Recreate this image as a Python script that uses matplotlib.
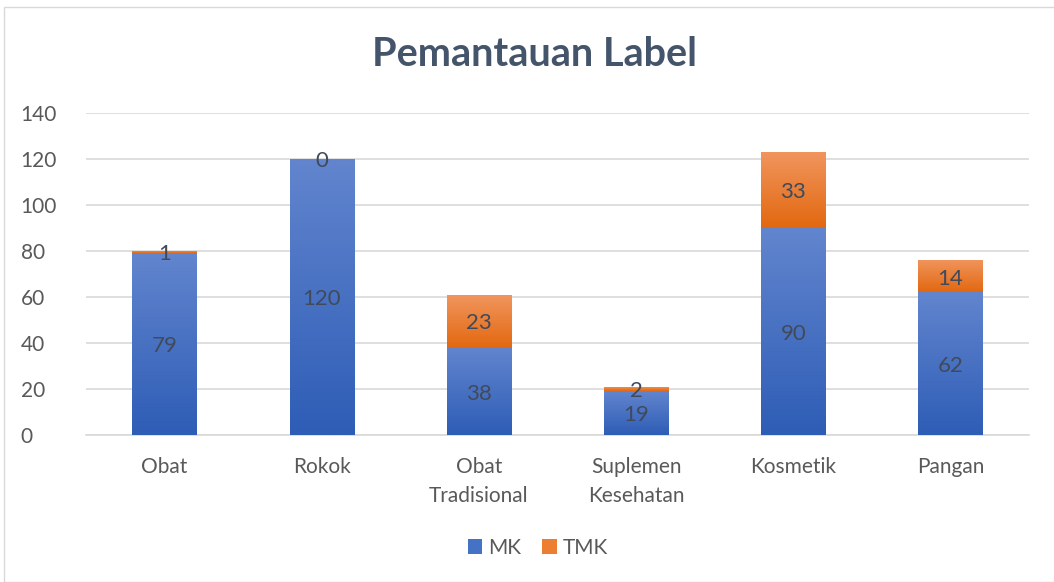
import matplotlib
matplotlib.use("Agg")
import matplotlib.pyplot as plt
import numpy as np
from matplotlib.colors import LinearSegmentedColormap
from matplotlib.patches import Rectangle, Patch

categories = ["Obat", "Rokok", "Obat\nTradisional", "Suplemen\nKesehatan", "Kosmetik", "Pangan"]
mk = [79, 120, 38, 19, 90, 62]
tmk = [1, 0, 23, 2, 33, 14]
yticks = [0, 20, 40, 60, 80, 100, 120, 140]

plt.rcParams['font.family'] = ['Lato', 'DejaVu Sans']

W, H = 1054, 582
fig = plt.figure(figsize=(W/100, H/100), dpi=100)
ax = fig.add_axes([86/W, 1-435/H, (1029-86)/W, (435-113)/H])

blue_cmap = LinearSegmentedColormap.from_list("b", ["#2E5DB6", "#6285CE"])
orange_cmap = LinearSegmentedColormap.from_list("o", ["#E2680F", "#F1955E"])

x = np.arange(len(categories))
width = 0.41
b1 = ax.bar(x, mk, width, color="#4472C4", label="MK", zorder=2)
b2 = ax.bar(x, tmk, width, bottom=mk, color="#ED7D31", label="TMK", zorder=2)

grad = np.linspace(0, 1, 256).reshape(-1, 1)
for bars, cmap in ((b1, blue_cmap), (b2, orange_cmap)):
    for p in bars:
        x0, y0 = p.get_x(), p.get_y()
        w, h = p.get_width(), p.get_height()
        if h <= 0:
            continue
        im = ax.imshow(grad, cmap=cmap, origin="lower", aspect="auto",
                       extent=(x0, x0 + w, y0, y0 + h), zorder=3)
        im.set_clip_path(p)

ax.set_xlim(-0.5, len(categories) - 0.5)
ax.set_ylim(0, 140)
ax.set_yticks(yticks)
ax.set_xticks(x)
ax.set_xticklabels(categories, linespacing=1.55)
ax.grid(axis="y", color="#D9D9D9", linewidth=1.2, zorder=0)
ax.set_axisbelow(True)
for s in ["top", "right", "left"]:
    ax.spines[s].set_visible(False)
ax.spines["bottom"].set_color("#D9D9D9")
ax.spines["bottom"].set_linewidth(1.2)
ax.tick_params(axis="both", length=0, labelsize=15, labelcolor="#595959")
ax.tick_params(axis="x", pad=16)
ax.tick_params(axis="y", pad=47)
for lbl in ax.get_yticklabels():
    lbl.set_horizontalalignment("left")

for i in range(len(categories)):
    ax.text(x[i], mk[i] / 2 - 1, str(mk[i]), ha="center", va="center",
            fontsize=16, color="#404A5A", zorder=5)
    ax.text(x[i], mk[i] + tmk[i] / 2 - 1, str(tmk[i]), ha="center", va="center",
            fontsize=16, color="#404A5A", zorder=5)

fig.text(534/W, 1-55/H, "Pemantauan Label", ha="center", va="center",
         fontsize=28.5, fontweight="bold", color="#44546A")

handles = [Patch(facecolor="#4472C4"), Patch(facecolor="#ED7D31")]
fig.legend(handles, ["MK", "TMK"], loc="center", bbox_to_anchor=(538/W, 1-548/H),
           ncol=2, frameon=False, fontsize=15, labelcolor="#595959",
           handlelength=0.7, handleheight=0.7, handletextpad=0.3, columnspacing=1.0)

fig.patches.append(Rectangle((4/W, 0), 1.2, 1-7/H, transform=fig.transFigure,
                             fill=False, edgecolor="#D9D9D9", linewidth=1.0))

fig.savefig("out.png", dpi=100)
